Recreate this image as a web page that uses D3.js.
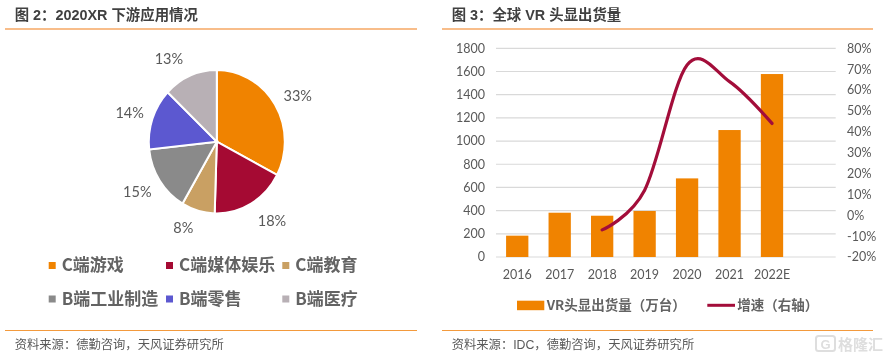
<!DOCTYPE html>
<html><head><meta charset="utf-8">
<script src="https://cdn.jsdelivr.net/npm/d3@7/dist/d3.min.js"></script>
<style>
html,body{margin:0;padding:0;background:#fff}
svg{display:block;filter:blur(0.35px)}
text{font-family:"Noto Sans CJK SC",sans-serif}
.num{font-family:Lato,"Open Sans",sans-serif}
.lat{font-family:"Liberation Sans","Noto Sans CJK SC",sans-serif}
</style></head><body>
<svg id="c" width="890" height="361"></svg>
<script>
const pieCategories=["C端游戏","C端媒体娱乐","C端教育","B端工业制造","B端零售","B端医疗"];
const pieValues=[33,18,8,15,14,13];
const pieColors=["#f08300","#a50a33","#c9a063","#8a8a8a","#5c58d0","#b8b0b5"];
const years=["2016","2017","2018","2019","2020","2021","2022E",""];
const shipments=[184,382,356,397,678,1095,1578];
const growth=[null,null,-7,12,72,64,44];
const leftTicks=[0,200,400,600,800,1000,1200,1400,1600,1800];
const rightTicks=[-20,-10,0,10,20,30,40,50,60,70,80];

const svg=d3.select("#c");
const INK="#595959";
svg.append("rect").attr("width",890).attr("height",361).attr("fill","#fff");

function frame(x0,x1,tx,title,source){
  svg.append("line").attr("x1",x0).attr("x2",x1).attr("y1",29).attr("y2",29).attr("stroke","#f8bd8a").attr("stroke-width",2);
  svg.append("line").attr("x1",x0).attr("x2",x1).attr("y1",330.5).attr("y2",330.5).attr("stroke","#f39a3d").attr("stroke-width",1);
  svg.append("text").attr("class","lat").attr("x",tx).attr("y",20).attr("font-size",14.4).attr("font-weight",700).attr("fill","#404040").text(title);
  svg.append("text").attr("class","lat").attr("x",tx).attr("y",348.5).attr("font-size",12.3).attr("fill",INK).text(source);
}
frame(5,417,14.7,"图 2：2020XR 下游应用情况","资料来源：德勤咨询，天风证券研究所");
frame(442,873,451.7,"图 3：全球 VR 头显出货量","资料来源：IDC，德勤咨询，天风证券研究所");

// pie
const rx=68,ry=71.7,pcx=216.8,pcy=141.7;
const pieG=svg.append("g").attr("transform",`translate(${pcx},${pcy})`);
const arcs=d3.pie().sort(null)(pieValues);
const arc=d3.arc().innerRadius(0).outerRadius(1);
pieG.selectAll("path").data(arcs).join("path")
  .attr("d",arc)
  .attr("transform",`scale(${rx},${ry})`)
  .attr("fill",(d,i)=>pieColors[i])
  .attr("stroke","#fff").attr("stroke-width",2).attr("vector-effect","non-scaling-stroke");
const labelNudge=[[2.2,3.7],[8.8,-3.8],[-8.1,-5.7],[-2.3,-1.7],[0,2.4],[-11.7,5.9]];
pieG.selectAll("text").data(arcs).join("text").attr("class","num")
  .attr("x",(d,i)=>92*Math.sin((d.startAngle+d.endAngle)/2)+labelNudge[i][0])
  .attr("y",(d,i)=>-96*Math.cos((d.startAngle+d.endAngle)/2)+labelNudge[i][1])
  .attr("dy","0.35em").attr("text-anchor","middle").attr("font-size",14.5).attr("fill",INK)
  .text(d=>d.value+"%");

// pie legend
const colX=[48.7,166,282.3],rowY=[265.5,299];
pieCategories.forEach((c,i)=>{
  const x=colX[i%3],y=rowY[Math.floor(i/3)];
  svg.append("rect").attr("x",x).attr("y",y-3.5).attr("width",7).attr("height",7).attr("fill",pieColors[i]);
  svg.append("text").attr("x",x+13).attr("y",y+5.8).attr("font-size",17).attr("font-weight",700).attr("fill","#636363").text(c);
});

// combo
const x=d3.scaleBand().domain(d3.range(years.length)).range([496,835.7]).paddingInner(0.475).paddingOuter(0.2375);
const yL=d3.scaleLinear().domain([0,1800]).range([257,48.3]);
const yR=d3.scaleLinear().domain([-20,80]).range([257,48.3]);
svg.append("g").selectAll("line").data(leftTicks).join("line")
  .attr("x1",496).attr("x2",835.7).attr("y1",d=>yL(d)).attr("y2",d=>yL(d))
  .attr("stroke","#d9d9d9").attr("stroke-width",1.2);
svg.append("g").selectAll("rect").data(shipments).join("rect")
  .attr("x",(d,i)=>x(i)).attr("width",x.bandwidth())
  .attr("y",d=>yL(d)).attr("height",d=>yL(0)-yL(d)).attr("fill","#f08300");
const line=d3.line().defined(d=>d!=null)
  .x((d,i)=>x(i)+x.bandwidth()/2).y(d=>yR(d)).curve(d3.curveCatmullRom.alpha(0));
svg.append("path").attr("d",line(growth)).attr("fill","none").attr("stroke","#a30d3a").attr("stroke-width",3.2).attr("stroke-linecap","round");
svg.append("g").selectAll("text").data(leftTicks).join("text").attr("class","num")
  .attr("x",485).attr("y",d=>yL(d)).attr("dy","0.35em").attr("text-anchor","end")
  .attr("font-size",12.5).attr("fill",INK).text(d=>d);
svg.append("g").selectAll("text").data(rightTicks).join("text").attr("class","num")
  .attr("x",847).attr("y",d=>yR(d)).attr("dy","0.35em")
  .attr("font-size",12.5).attr("fill",INK).text(d=>d+"%");
svg.append("g").selectAll("text").data(years).join("text").attr("class","num")
  .attr("x",(d,i)=>x(i)+x.bandwidth()/2).attr("y",275).attr("dy","0.35em").attr("text-anchor","middle")
  .attr("font-size",12.5).attr("fill",INK).text(d=>d);

// combo legend
svg.append("rect").attr("x",517).attr("y",300.7).attr("width",27.3).attr("height",9.5).attr("fill","#f08300");
svg.append("text").attr("x",546.7).attr("y",310).attr("font-size",13.5).attr("font-weight",700).attr("fill","#636363").text("VR头显出货量（万台）");
svg.append("line").attr("x1",707.3).attr("x2",735).attr("y1",305.3).attr("y2",305.3).attr("stroke","#a30d3a").attr("stroke-width",3);
svg.append("text").attr("x",737.3).attr("y",310).attr("font-size",13.5).attr("font-weight",700).attr("fill","#636363").text("增速（右轴）");

// watermark
svg.append("text").attr("x",838).attr("y",349.5).attr("font-size",15).attr("font-weight",700).attr("fill","#dedede").text("格隆汇");
svg.append("rect").attr("x",816).attr("y",336).attr("width",19).attr("height",15).attr("rx",2.5).attr("fill","none").attr("stroke","#dedede").attr("stroke-width",2);
svg.append("text").attr("x",825.5).attr("y",349).attr("text-anchor","middle").attr("class","lat").attr("font-size",13).attr("font-weight",700).attr("fill","#dedede").text("G");
</script></body></html>
